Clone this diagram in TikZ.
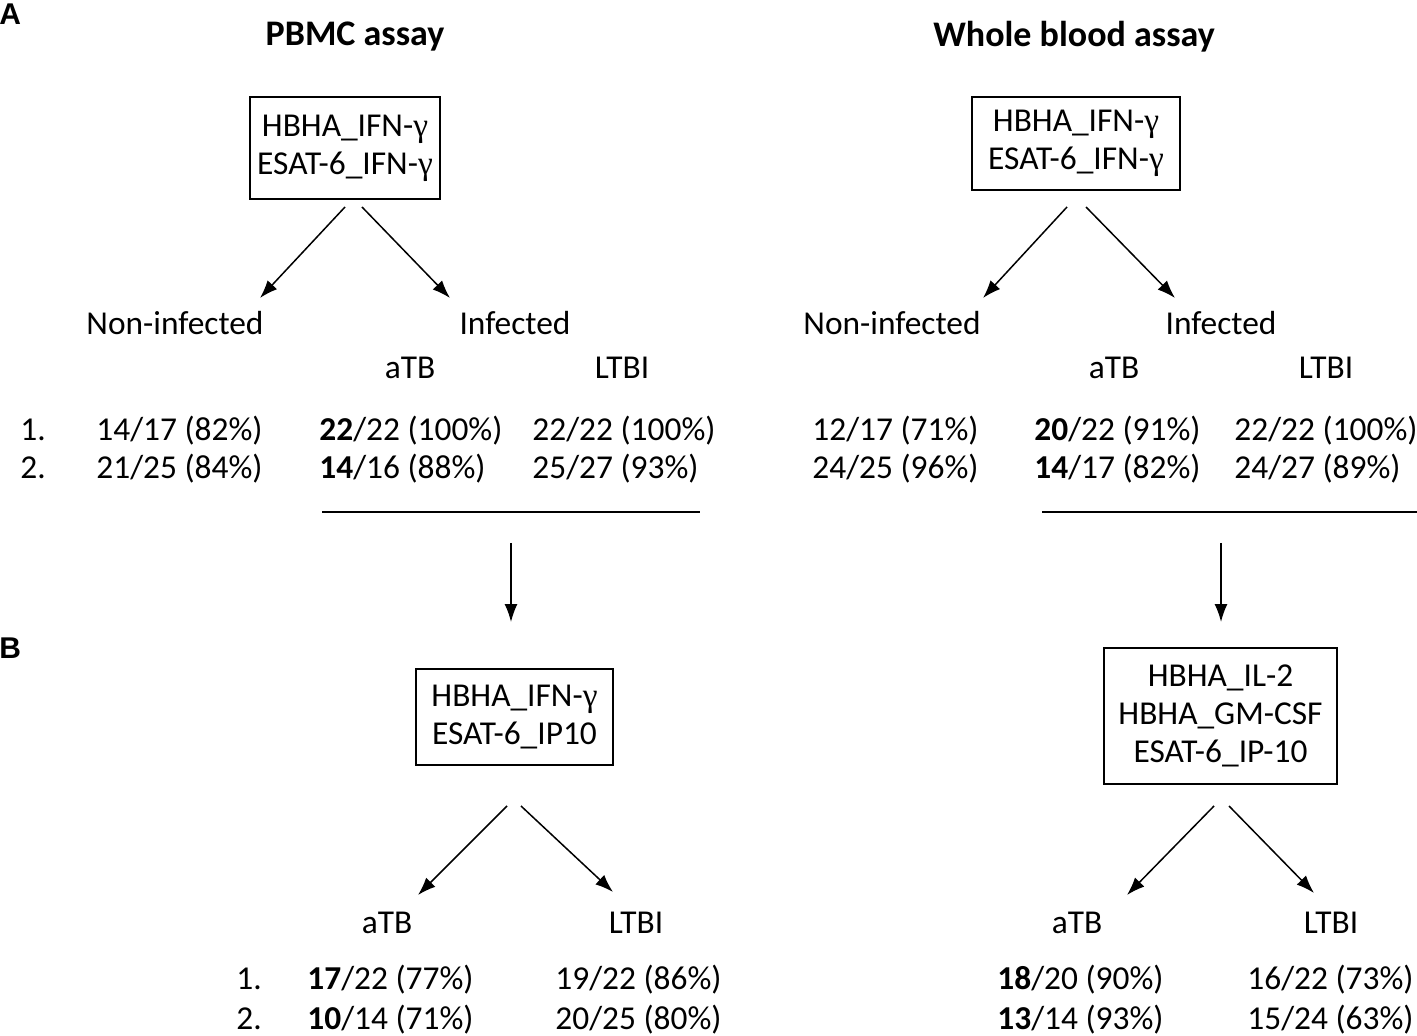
\documentclass[tikz,border=0pt]{standalone}
\usepackage{fontspec}
\setmainfont{Carlito}
\newfontfamily\grfont{Liberation Serif}
\newfontfamily\labfont{Liberation Sans}
\usetikzlibrary{arrows.meta}
\newcommand\txtsz{\fontsize{16.7}{19}\selectfont}
\newcommand\gam{{\grfont γ}}
\newcommand\panelfont{\labfont\bfseries\fontsize{15}{17}\selectfont}
\begin{document}
\begin{tikzpicture}[x=0.5pt,y=-0.5pt,
  every node/.style={inner sep=0pt, font=\txtsz},
  boxnode/.style={draw, line width=0.75pt, align=center},
  arr/.style={line width=0.75pt, -{Latex[length=9pt,width=6.5pt]}},
  rule/.style={line width=0.75pt},
  cell/.style={anchor=base west},
  head/.style={font=\fontsize{18}{20}\selectfont\bfseries},
  panel/.style={anchor=base west}]
\useasboundingbox (0,0) rectangle (1417,1036);

% panel labels and headers
\node[panel] (pA) at (-1,25) {\panelfont A};
\node[panel] (pB) at (-1,658) {\panelfont B};
\node[head] (h1) at (355,37) {PBMC assay};
\node[head] (h2) at (1074,37) {Whole blood assay};

% ---------- A, PBMC ----------
\node[boxnode, minimum width=95pt, minimum height=51pt] (b1) at (345,148) {HBHA\_IFN-\gam\\ESAT-6\_IFN-\gam};
\coordinate (b1l) at (345,207); \coordinate (b1r) at (362,207);
\coordinate (e1l) at (260,298); \coordinate (e1r) at (450,298);
\draw[arr] (b1l) -- (e1l);
\draw[arr] (b1r) -- (e1r);
\node (ni1) at (175,323) {Non-infected};
\node (in1) at (515,323) {Infected};
\node (at1) at (410,368) {aTB};
\node (lt1) at (622,368) {LTBI};
\node[cell] (r1a) at (20,441) {1.};
\node[cell] (r1b) at (20,479) {2.};
\node[cell] (c11) at (96,441) {14/17 (82\%)};
\node[cell] (c12) at (96,479) {21/25 (84\%)};
\node[cell] (c21) at (319,441) {\textbf{22}/22 (100\%)};
\node[cell] (c22) at (319,479) {\textbf{14}/16 (88\%)};
\node[cell] (c31) at (532,441) {22/22 (100\%)};
\node[cell] (c32) at (532,479) {25/27 (93\%)};
\coordinate (l1a) at (322,512); \coordinate (l1b) at (700,512);
\draw[rule] (l1a) -- (l1b);
\coordinate (d1a) at (511,543); \coordinate (d1b) at (511,622);
\draw[arr] (d1a) -- (d1b);

% ---------- A, whole blood ----------
\node[boxnode, minimum width=104pt, minimum height=46.5pt] (b2) at (1076,143.5) {HBHA\_IFN-\gam\\ESAT-6\_IFN-\gam};
\coordinate (b2l) at (1067,207); \coordinate (b2r) at (1086,207);
\coordinate (e2l) at (983,298); \coordinate (e2r) at (1175,298);
\draw[arr] (b2l) -- (e2l);
\draw[arr] (b2r) -- (e2r);
\node (ni2) at (892,323) {Non-infected};
\node (in2) at (1221,323) {Infected};
\node (at2) at (1114,368) {aTB};
\node (lt2) at (1326,368) {LTBI};
\node[cell] (d11) at (812,441) {12/17 (71\%)};
\node[cell] (d12) at (812,479) {24/25 (96\%)};
\node[cell] (d21) at (1034,441) {\textbf{20}/22 (91\%)};
\node[cell] (d22) at (1034,479) {\textbf{14}/17 (82\%)};
\node[cell] (d31) at (1234,441) {22/22 (100\%)};
\node[cell] (d32) at (1234,479) {24/27 (89\%)};
\coordinate (l2a) at (1042,512); \coordinate (l2b) at (1417,512);
\draw[rule] (l2a) -- (l2b);
\coordinate (d2a) at (1221,543); \coordinate (d2b) at (1221,622);
\draw[arr] (d2a) -- (d2b);

% ---------- B, PBMC ----------
\node[boxnode, minimum width=98.5pt, minimum height=48pt] (b3) at (514.5,717) {HBHA\_IFN-\gam\\ESAT-6\_IP10};
\coordinate (b3l) at (507,806); \coordinate (b3r) at (521,806);
\coordinate (e3l) at (418,895); \coordinate (e3r) at (613,892);
\draw[arr] (b3l) -- (e3l);
\draw[arr] (b3r) -- (e3r);
\node (at3) at (387,923) {aTB};
\node (lt3) at (636,923) {LTBI};
\node[cell] (s1a) at (236,989) {1.};
\node[cell] (s1b) at (236,1029) {2.};
\node[cell] (f11) at (307,989) {\textbf{17}/22 (77\%)};
\node[cell] (f12) at (307,1029) {\textbf{10}/14 (71\%)};
\node[cell] (f21) at (555,989) {19/22 (86\%)};
\node[cell] (f22) at (555,1029) {20/25 (80\%)};

% ---------- B, whole blood ----------
\node[boxnode, minimum width=116.5pt, minimum height=68pt] (b4) at (1220.5,716) {HBHA\_IL-2\\HBHA\_GM-CSF\\ESAT-6\_IP-10};
\coordinate (b4l) at (1214,806); \coordinate (b4r) at (1229,806);
\coordinate (e4l) at (1127,895); \coordinate (e4r) at (1314,893);
\draw[arr] (b4l) -- (e4l);
\draw[arr] (b4r) -- (e4r);
\node (at4) at (1077,923) {aTB};
\node (lt4) at (1331,923) {LTBI};
\node[cell] (g11) at (997,989) {\textbf{18}/20 (90\%)};
\node[cell] (g12) at (997,1029) {\textbf{13}/14 (93\%)};
\node[cell] (g21) at (1247,989) {16/22 (73\%)};
\node[cell] (g22) at (1247,1029) {15/24 (63\%)};
\end{tikzpicture}
\end{document}
